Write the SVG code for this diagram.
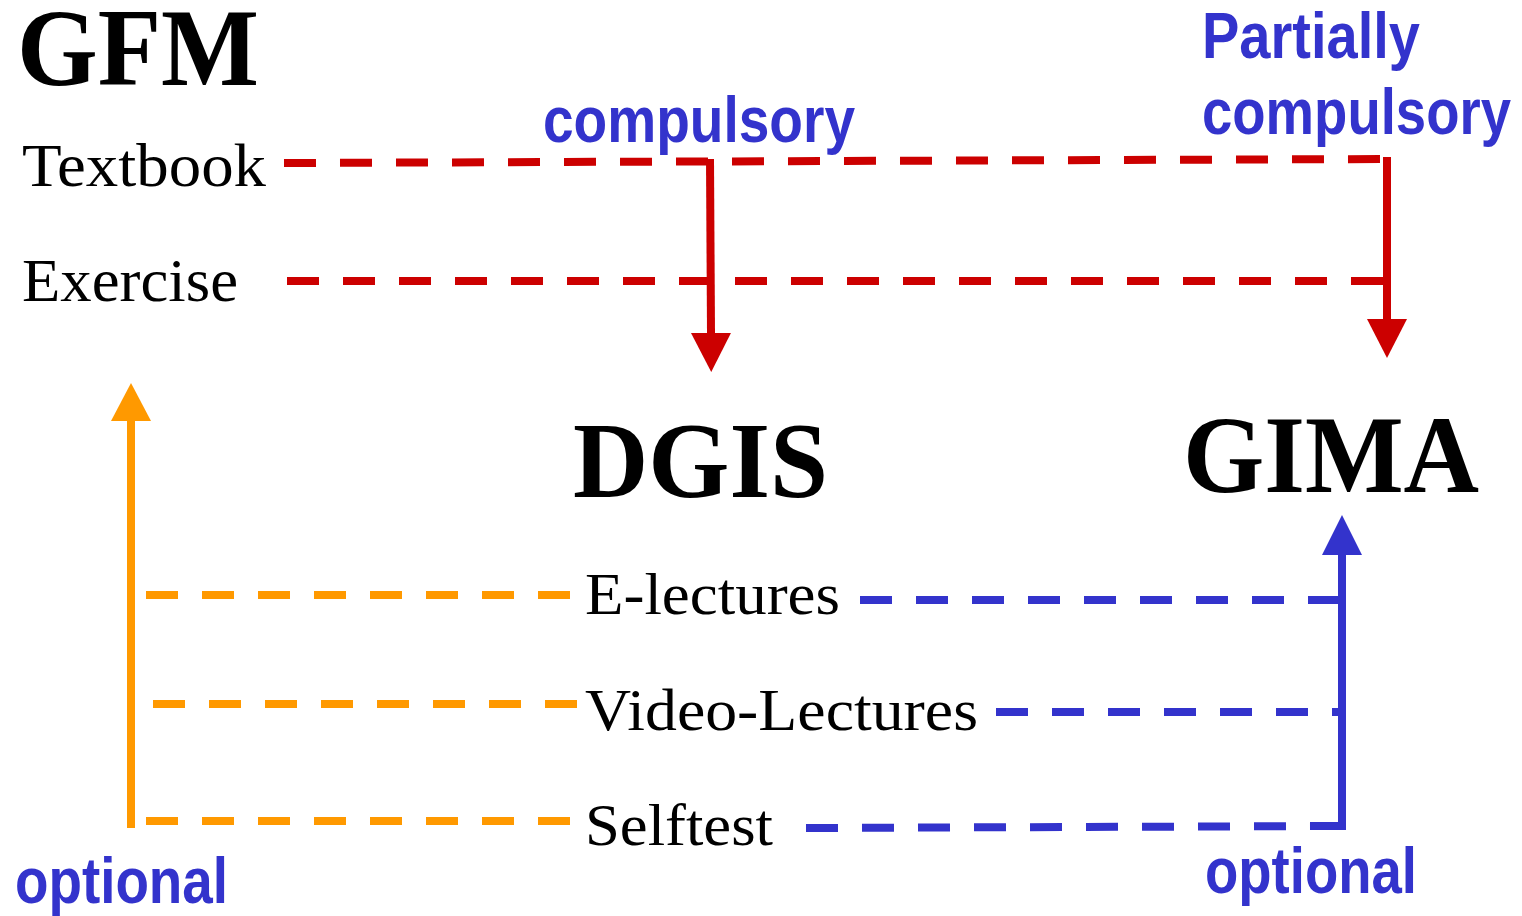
<svg xmlns="http://www.w3.org/2000/svg" width="1522" height="916" viewBox="0 0 1522 916">
<style>
.serif{font-family:"Liberation Serif","Times New Roman",serif;fill:#000}
.title{font-weight:bold}
.lbl{font-family:"Liberation Sans",Arial,sans-serif;font-weight:bold;fill:#3333CC;font-size:64px}
.dash{stroke-width:8;stroke-dasharray:32 24;fill:none}
.solid{stroke-width:8;fill:none}
.red{stroke:#CC0000}
.orange{stroke:#FF9900}
.blue{stroke:#3333CC}
</style>
<defs>
<marker id="hr" viewBox="0 0 40 40" markerWidth="40" markerHeight="40" markerUnits="userSpaceOnUse" refX="0" refY="20" orient="auto"><path d="M0,0 L39,20 L0,40 z" fill="#CC0000"/></marker>
<marker id="ho" viewBox="0 0 40 40" markerWidth="40" markerHeight="40" markerUnits="userSpaceOnUse" refX="0" refY="20" orient="auto"><path d="M0,0 L38,20 L0,40 z" fill="#FF9900"/></marker>
<marker id="hb" viewBox="0 0 40 40" markerWidth="40" markerHeight="40" markerUnits="userSpaceOnUse" refX="0" refY="20" orient="auto"><path d="M0,0 L40,20 L0,40 z" fill="#3333CC"/></marker>
</defs>
<rect width="1522" height="916" fill="#fff"/>
<g id="connectors">
<line class="dash red" x1="284" y1="163" x2="1387" y2="159"/>
<line class="dash red" x1="287" y1="281" x2="1385" y2="281"/>
<line class="solid red" x1="710" y1="159" x2="711" y2="333" marker-end="url(#hr)"/>
<line class="solid red" x1="1387" y1="157" x2="1387" y2="319" marker-end="url(#hr)"/>
<line class="dash orange" x1="146" y1="595" x2="570" y2="595"/>
<line class="dash orange" x1="153" y1="704" x2="578" y2="704"/>
<line class="dash orange" x1="146" y1="821" x2="570" y2="821"/>
<line class="solid orange" x1="131" y1="828" x2="131" y2="421" marker-end="url(#ho)"/>
<line class="dash blue" x1="860" y1="600" x2="1342" y2="600"/>
<line class="dash blue" x1="996" y1="712" x2="1338" y2="712"/>
<line class="dash blue" x1="806" y1="828" x2="1342" y2="826"/>
<line class="solid blue" x1="1342" y1="830" x2="1342" y2="555" marker-end="url(#hb)"/>
</g>
<g id="gfm"><text class="serif title" x="17" y="85" font-size="110" textLength="242" lengthAdjust="spacingAndGlyphs">GFM</text></g>
<g id="textbook"><text class="serif" x="22" y="186" font-size="62" textLength="244" lengthAdjust="spacingAndGlyphs">Textbook</text></g>
<g id="exercise"><text class="serif" x="22" y="301" font-size="62" textLength="216" lengthAdjust="spacingAndGlyphs">Exercise</text></g>
<g id="dgis"><text class="serif title" x="573" y="497" font-size="108" textLength="255" lengthAdjust="spacingAndGlyphs">DGIS</text></g>
<g id="gima"><text class="serif title" x="1183" y="492" font-size="110" textLength="296" lengthAdjust="spacingAndGlyphs">GIMA</text></g>
<g id="electures"><text class="serif" x="585" y="614" font-size="60" textLength="255" lengthAdjust="spacingAndGlyphs">E-lectures</text></g>
<g id="videolectures"><text class="serif" x="585" y="730" font-size="60" textLength="393" lengthAdjust="spacingAndGlyphs">Video-Lectures</text></g>
<g id="selftest"><text class="serif" x="585" y="845" font-size="60" textLength="188" lengthAdjust="spacingAndGlyphs">Selftest</text></g>
<g id="labels">
<text class="lbl" x="543" y="142" textLength="312" lengthAdjust="spacingAndGlyphs">compulsory</text>
<text class="lbl" x="1202" y="58" textLength="218" lengthAdjust="spacingAndGlyphs">Partially</text>
<text class="lbl" x="1202" y="134" textLength="309" lengthAdjust="spacingAndGlyphs">compulsory</text>
<text class="lbl" x="15" y="903" textLength="213" lengthAdjust="spacingAndGlyphs">optional</text>
<text class="lbl" x="1205" y="893" textLength="212" lengthAdjust="spacingAndGlyphs">optional</text>
</g>
</svg>
